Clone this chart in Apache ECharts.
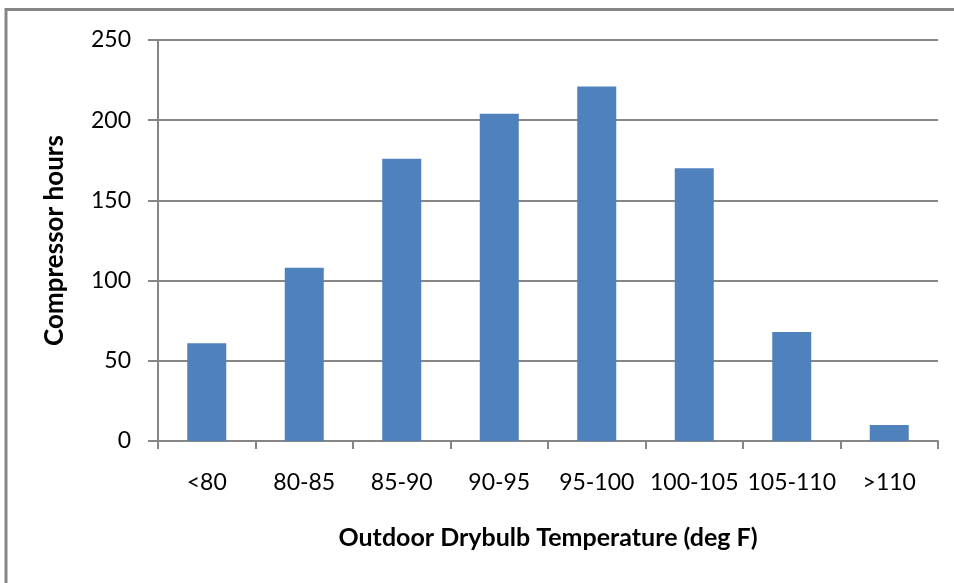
<!DOCTYPE html>
<html>
<head>
<meta charset="utf-8">
<script src="https://cdn.jsdelivr.net/npm/echarts@6/dist/echarts.min.js"></script>
<style>
  html, body { margin: 0; padding: 0; background: #ffffff; }
  #chart { width: 954px; height: 583px; }
</style>
</head>
<body>
<div id="chart"></div>
<script>
// Temperature bins (deg F) and compressor run hours in each bin
const categories = ['<80', '80-85', '85-90', '90-95', '95-100', '100-105', '105-110', '>110'];
const hours = [61, 108, 176, 204, 221, 170, 68, 10];
const yTicks = { min: 0, max: 250, interval: 50 };

const FONT = 'Lato';
const GRAY = '#868686';

const chart = echarts.init(document.getElementById('chart'), null, { renderer: 'canvas' });

chart.setOption({
  animation: false,
  backgroundColor: '#ffffff',
  textStyle: { fontFamily: FONT },
  graphic: [
    // frame edges along the top and left
    { type: 'line', shape: { x1: 6, y1: 9.5, x2: 954, y2: 9.5 }, style: { stroke: GRAY, lineWidth: 3 } },
    { type: 'line', shape: { x1: 6, y1: 8, x2: 6, y2: 583 }, style: { stroke: GRAY, lineWidth: 3 } }
  ],
  grid: { left: 158, right: 16, top: 40, bottom: 142 },
  xAxis: {
    type: 'category',
    data: categories,
    name: 'Outdoor Drybulb Temperature (deg F)',
    nameLocation: 'middle',
    nameGap: 84,
    nameTextStyle: { fontFamily: FONT, fontSize: 25, fontWeight: 'bold', color: '#000' },
    axisLine: { lineStyle: { color: GRAY, width: 2 } },
    axisTick: { show: true, length: 8, lineStyle: { color: GRAY, width: 2 } },
    axisLabel: { interval: 0, margin: 30, fontFamily: FONT, fontSize: 23, color: '#000' },
    splitLine: { show: false }
  },
  yAxis: {
    type: 'value',
    min: yTicks.min,
    max: yTicks.max,
    interval: yTicks.interval,
    name: 'Compressor hours',
    nameLocation: 'middle',
    nameRotate: 90,
    nameGap: 90,
    nameTextStyle: { fontFamily: FONT, fontSize: 26, fontWeight: 'bold', color: '#000' },
    axisLine: { show: true, lineStyle: { color: GRAY, width: 2 } },
    axisTick: { show: true, length: 10, lineStyle: { color: GRAY, width: 2 } },
    axisLabel: { margin: 27, fontFamily: FONT, fontSize: 23, color: '#000' },
    splitLine: { show: true, lineStyle: { color: GRAY, width: 2 } }
  },
  series: [{
    type: 'bar',
    data: hours,
    barWidth: '40%',
    itemStyle: { color: '#4F81BD' }
  }]
});
</script>
</body>
</html>
